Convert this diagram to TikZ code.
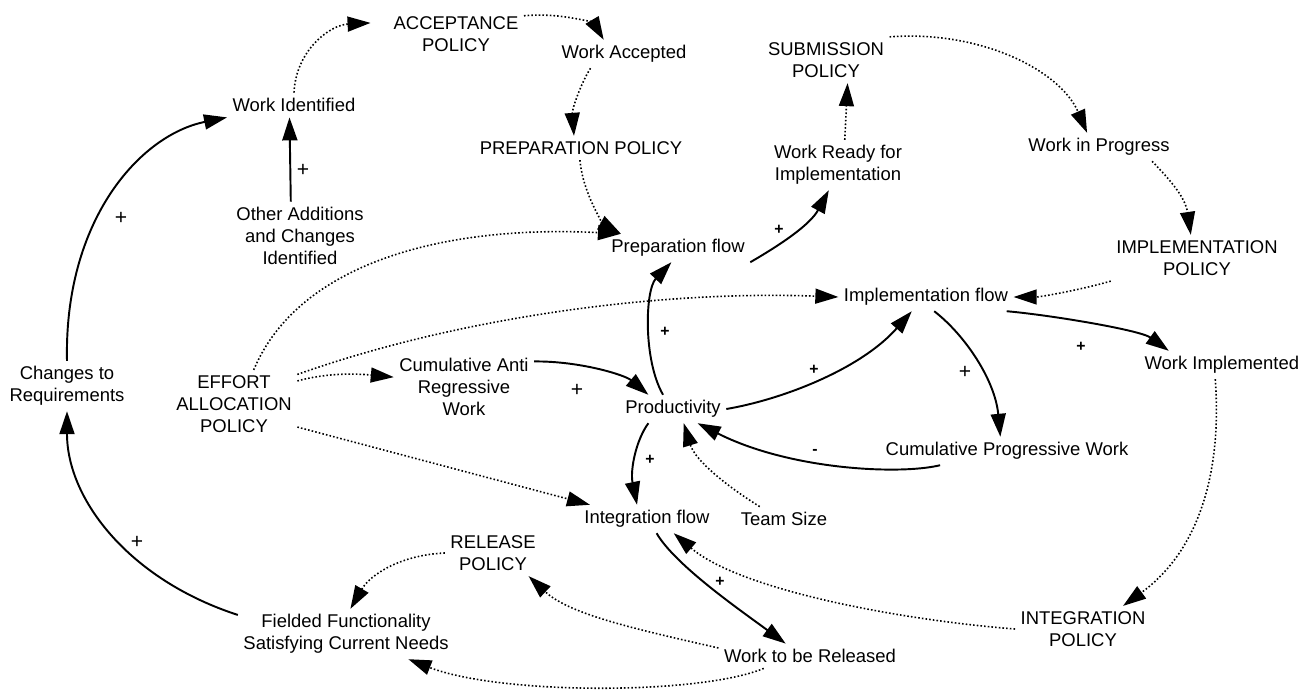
\documentclass[tikz,border=0pt]{standalone}
\usepackage{fontspec}
\setmainfont{Liberation Sans}
\usetikzlibrary{arrows.meta}
\begin{document}
\begin{tikzpicture}[x=0.02cm,y=-0.02cm,
  lbl/.style={align=center,inner sep=3pt,font=\fontsize{10.5}{12.5}\selectfont},
  flow/.style={line width=1.1pt,-{Triangle[length=4.6mm,width=3mm]}},
  info/.style={line width=0.9pt,dash pattern=on 0.9pt off 1.2pt,-{Triangle[length=4.6mm,width=3mm]}},
  sgn/.style={font=\fontsize{12}{12}\selectfont,inner sep=0pt},
  bsgn/.style={font=\bfseries\fontsize{9}{9}\selectfont,inner sep=0pt}]
\useasboundingbox (0,0) rectangle (1311,693);
\node[lbl] (acc) at (456,34) {ACCEPTANCE\\POLICY};
\node[lbl] (wacc) at (624,54) {Work Accepted};
\node[lbl] (wid) at (294,105) {Work Identified};
\node[lbl] (prep) at (581,148) {PREPARATION POLICY};
\node[lbl] (oth) at (300,236) {Other Additions\\and Changes\\Identified};
\node[lbl] (pflow) at (678,248) {Preparation flow};
\node[lbl] (sub) at (826,60) {SUBMISSION\\POLICY};
\node[lbl] (wrdy) at (838,165) {Work Ready for\\Implementation};
\node[lbl] (wip) at (1099,147) {Work in Progress};
\node[lbl] (impol) at (1197,258) {IMPLEMENTATION\\POLICY};
\node[lbl] (iflow) at (926,297) {Implementation flow};
\node[lbl] (chg) at (67,386) {Changes to\\Requirements};
\node[lbl] (eff) at (234,404) {EFFORT\\ALLOCATION\\POLICY};
\node[lbl] (anti) at (464,387) {Cumulative Anti\\Regressive\\Work};
\node[lbl] (prod) at (673,409) {Productivity};
\node[lbl,anchor=west] (wimp) at (1139,365) {Work Implemented};
\node[lbl] (cpw) at (1007,451) {Cumulative Progressive Work};
\node[lbl] (team) at (784,519) {Team Size};
\node[lbl] (intf) at (647,519) {Integration flow};
\node[lbl] (rel) at (493,553) {RELEASE\\POLICY};
\node[lbl] (fld) at (346,634) {Fielded Functionality\\Satisfying Current Needs};
\node[lbl] (intpol) at (1083,629) {INTEGRATION\\POLICY};
\node[lbl] (wrel) at (810,656) {Work to be Released};
\draw[flow] (chg.north) .. controls (64,220) and (140,135) .. (wid.south west);
\draw[flow] (oth.105) -- (wid.-110);
\draw[flow] (fld.170) .. controls (130,580) and (67,500) .. (chg.south);
\draw[flow] (pflow.south east) .. controls (780,245) and (810,225) .. (wrdy.-110);
\draw[flow] (prod.125) .. controls (643,360) and (645,290) .. (pflow.-115);
\draw[flow] (anti.20) .. controls (580,361) and (625,375) .. (prod.150);
\draw[flow] (prod.east) .. controls (780,400) and (860,370) .. (iflow.-135);
\draw[flow] (iflow.-60) .. controls (965,335) and (995,380) .. (cpw.115);
\draw[flow] (cpw.-168) .. controls (900,475) and (790,470) .. (prod.-30);
\draw[flow] (prod.-150) .. controls (636,440) and (630,470) .. (intf.125);
\draw[flow] (iflow.-10) .. controls (1050,315) and (1140,330) .. (wimp.165);
\draw[flow] (intf.-56) .. controls (675,565) and (740,610) .. (wrel.153);
\draw[info,shorten >=3.5mm] (wid.north) .. controls (296,50) and (330,25) .. (acc.170);
\draw[info] (acc.15) .. controls (565,12) and (595,25) .. (wacc.145);
\draw[info] (wacc.-157) .. controls (580,85) and (572,110) .. (prep.120);
\draw[info] (prep.-95) .. controls (583,195) and (605,225) .. (pflow.166);
\draw[info] (eff.60) .. controls (300,260) and (450,225) .. (pflow.166);
\draw[info] (eff.25) .. controls (450,320) and (650,290) .. (iflow.west);
\draw[info] (eff.20) .. controls (330,372) and (360,374) .. (anti.172);
\draw[info] (eff.-20) -- (intf.166);
\draw[info] (wrdy.75) -- (sub.-47);
\draw[info] (sub.north east) .. controls (980,30) and (1060,70) .. (wip.130);
\draw[info] (wip.-15) .. controls (1165,175) and (1185,195) .. (impol.105);
\draw[info] (impol.south west) .. controls (1080,290) and (1040,297) .. (iflow.east);
\draw[info] (wimp.-115) .. controls (1222,470) and (1200,550) .. (intpol.30);
\draw[info] (intpol.west) .. controls (900,620) and (740,590) .. (intf.-28);
\draw[info] (wrel.175) .. controls (640,630) and (570,615) .. (rel.-33);
\draw[info] (wrel.-165) .. controls (700,695) and (500,695) .. (fld.-22);
\draw[info] (rel.west) .. controls (400,555) and (370,575) .. (fld.80);
\draw[info] (team.153) .. controls (725,485) and (695,460) .. (prod.-53);
\node[sgn] (s1) at (303,170) {+};
\node[sgn] (s2) at (121,218) {+};
\node[sgn] (s3) at (137,542) {+};
\node[sgn] (s4) at (577,390) {+};
\node[sgn] (s5) at (965,372) {+};
\node[bsgn] (s6) at (779,230) {+};
\node[bsgn] (s7) at (665,332) {+};
\node[bsgn] (s8) at (814,370) {+};
\node[bsgn] (s9) at (1081,347) {+};
\node[bsgn] (s10) at (650,460) {+};
\node[bsgn] (s11) at (720,582) {+};
\node[bsgn] (s12) at (815,452) {-};
\end{tikzpicture}
\end{document}
